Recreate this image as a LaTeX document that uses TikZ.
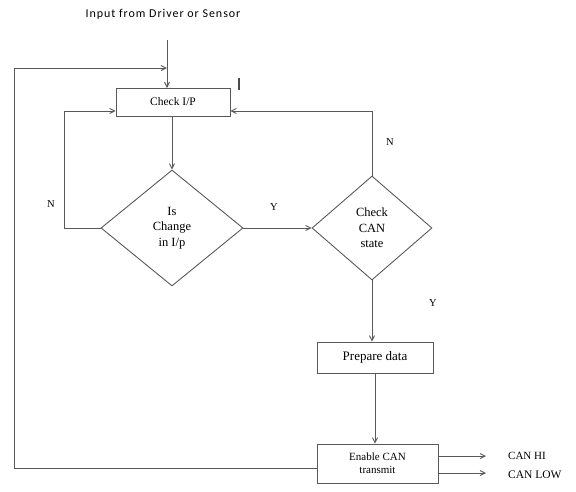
\documentclass[tikz,border=0pt]{standalone}
\usepackage{fontspec}
\setmainfont{Liberation Serif}
\newfontfamily\calfont[LetterSpace=8]{Carlito}
\usetikzlibrary{shapes.geometric,arrows.meta}
\begin{document}
\begin{tikzpicture}[x=1pt,y=-1pt,
  line/.style={draw=black!65,line width=0.9pt},
  arr/.style={line,-{Straight Barb[length=5pt,width=5pt]}},
  boxnode/.style={draw=black!65,line width=0.9pt,rectangle,inner sep=0pt,font=\fontsize{11.5}{12}\selectfont},
  dia/.style={draw=black!65,line width=0.9pt,diamond,inner sep=0pt,align=center,font=\fontsize{12.5}{15.5}\selectfont},
  lbl/.style={font=\fontsize{10.5}{12}\selectfont,inner sep=0pt}]
\useasboundingbox (0,0) rectangle (576,491);
\node[font=\calfont\fontsize{12}{14}\selectfont,inner sep=0pt] (inp) at (163,14) {Input from Driver or Sensor};
\coordinate (intop) at (167,40);
\node[boxnode,minimum width=114pt,minimum height=28pt] (chk) at (173,102) {Check I/P};
\node[dia,minimum width=142pt,minimum height=116pt] (d1) at (172,228) {Is\\Change\\in I/p};
\node[dia,minimum width=120pt,minimum height=104pt] (d2) at (372,228) {Check\\CAN\\state};
\node[boxnode,minimum width=116pt,minimum height=31pt,font=\fontsize{13}{14}\selectfont] (prep) at (375,357.5) {Prepare data};
\node[boxnode,minimum width=121pt,minimum height=39pt,align=center,font=\fontsize{11}{13}\selectfont] (en) at (377.5,463.5) {Enable CAN\\transmit};
\coordinate (c1) at (14,68);
\coordinate (c2) at (14,468);
\coordinate (l1) at (64,228);
\coordinate (l2) at (64,111);
\coordinate (r1) at (372,111);
\coordinate (hi) at (486,456);
\coordinate (lo) at (486,473);
\node[lbl,anchor=west,font=\fontsize{11}{12}\selectfont] (canhi) at (508,456) {CAN HI};
\node[lbl,anchor=west,font=\fontsize{11.5}{12}\selectfont] (canlo) at (508,475) {CAN LOW};
\node[lbl] (n1) at (51,204) {N};
\node[lbl] (y1) at (274,207) {Y};
\node[lbl] (n2) at (390,142) {N};
\node[lbl] (y2) at (433,303) {Y};
\draw[line width=1.3pt,black!70] (239,78) -- (239,90);
% connectors
\draw[arr] (intop) -- (167,88);
\draw[arr] (en.west |- c2) -- (c2) -- (c1) -- (167,68);
\draw[arr] (chk.south -| d1.north) -- (d1.north);
\draw[arr] (d1.west) -- (l1) -- (l2) -- (chk.west |- l2);
\draw[arr] (d1.east) -- (d2.west);
\draw[arr] (d2.north) -- (r1) -- (chk.east |- r1);
\draw[arr] (d2.south) -- (prep.north -| d2.south);
\draw[arr] (prep.south) -- (en.north -| prep.south);
\draw[arr] (en.east |- hi) -- (hi);
\draw[arr] (en.east |- lo) -- (lo);
\end{tikzpicture}
\end{document}
